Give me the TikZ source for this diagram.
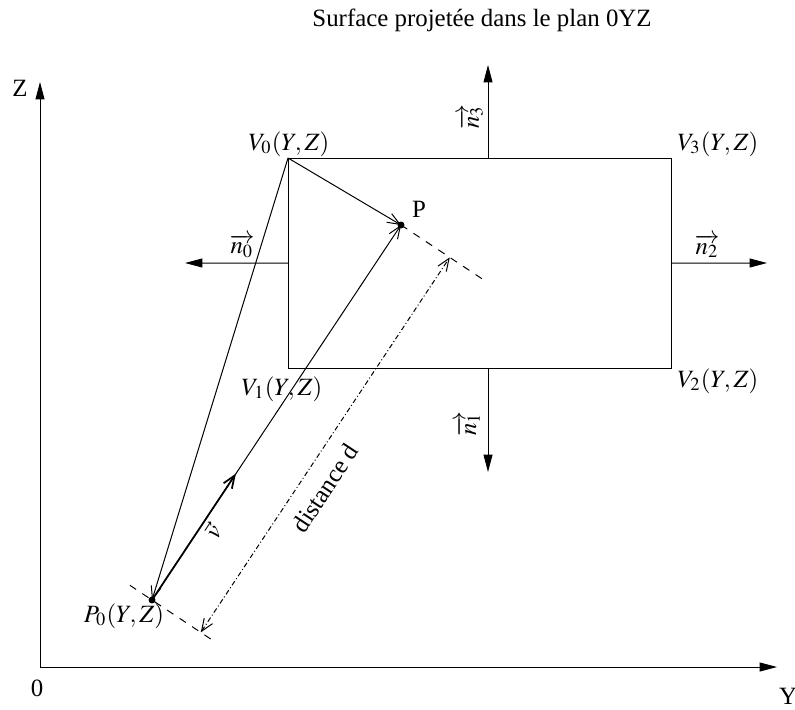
\documentclass[tikz,border=0pt]{standalone}
\usepackage{amsmath}
\usepackage{mathptmx}
\usepackage[no-math]{fontspec}
\setmainfont{Liberation Serif}
\usetikzlibrary{arrows.meta,calc}

\tikzset{
  axis/.style={-{Triangle[length=7pt,width=3.6pt]}},
  normale/.style={-{Triangle[length=7pt,width=3.6pt]}},
  vect/.style={-{Straight Barb[length=5pt,width=4pt]}},
  cote/.style={{Straight Barb[length=5pt,width=4pt]}-{Straight Barb[length=5pt,width=4pt]},
    dash pattern=on 2pt off 1pt on 0.4pt off 1pt},
  perp/.style={dashed},
}

\begin{document}
\begin{tikzpicture}[x=0.7065cm, y=0.7065cm, line width=0.4pt]
        \useasboundingbox (-0.8,-0.84) rectangle (15.1,13.34);

        % we draw axes
        \coordinate (O) at (0,0);
        \coordinate (Yb) at (14.74,0);
        \coordinate (Zb) at (0,11.7);
        \draw[axis] (O) -- (Yb);
        \draw[axis] (O) -- (Zb);
        \node (lO) at (-0.06,-0.42) {0};
        \node (lY) at (14.96,-0.58) {Y};
        \node (lZ) at (-0.4,11.58) {Z};
        \node (titre) at (8.84,12.94) {Surface projetée dans le plan 0YZ};

        % we draw the projected surface
        \coordinate (V0) at (4.96,10.18);
        \coordinate (V1) at (4.96,5.98);
        \coordinate (V2) at (12.62,5.98);
        \coordinate (V3) at (12.62,10.18);
        \draw (V0) -- (V1) -- (V2) -- (V3) -- cycle;
        \node (lV0) at (4.98,10.46) {$V_0(Y,Z)$};
        \node (lV1) at (4.84,5.56) {$V_1(Y,Z)$};
        \node (lV2) at (13.56,5.72) {$V_2(Y,Z)$};
        \node (lV3) at (13.56,10.46) {$V_3(Y,Z)$};

        % we add the normals
        \coordinate (n0a) at ($(V0)!0.5!(V1)$);
        \coordinate (n1a) at (8.96,5.98);
        \coordinate (n2a) at ($(V3)!0.5!(V2)$);
        \coordinate (n3a) at (8.96,10.18);
        \coordinate (n0b) at (2.9,8.08);
        \coordinate (n1b) at (8.96,3.9);
        \coordinate (n2b) at (14.54,8.08);
        \coordinate (n3b) at (8.96,12.04);
        \draw[normale] (n0a) -- (n0b);
        \draw[normale] (n1a) -- (n1b);
        \draw[normale] (n2a) -- (n2b);
        \draw[normale] (n3a) -- (n3b);
        \node (ln0) at (4.04,8.42) {$\overrightarrow{n_0}$};
        \node[rotate=90] (ln1) at (8.56,4.86) {$\overrightarrow{n_1}$};
        \node (ln2) at (13.34,8.42) {$\overrightarrow{n_2}$};
        \node[rotate=90] (ln3) at (8.62,11.0) {$\overrightarrow{n_3}$};

        % we draw the points and vectors
        \coordinate (P) at (7.22,8.84);
        \coordinate (P0) at (2.24,1.34);
        \coordinate (vb) at ($(P0)!0.337!(P)$);
        \draw[vect] (V0) -- (P);
        \draw[vect] (V0) -- (P0);
        \draw[vect] (P0) -- (P);
        \draw[vect, line width=0.7pt] (P0) -- (vb)
            node[pos=0.6, sloped, below, inner sep=1pt] {$\vec{v}$};
        \fill (P) circle (1.4pt);
        \fill (P0) circle (1.4pt);
        \node (lP) at (7.58,9.16) {P};
        \node (lP0) at (1.68,1.02) {$P_0(Y,Z)$};

        % we add the distance
        \coordinate (q1) at ($(P0)!0.059!90:(P)$);
        \coordinate (q2) at ($(P0)!0.16!-90:(P)$);
        \coordinate (q3) at ($(P)!0.229!90:(P0)$);
        \coordinate (dA) at ($(P0)!0.13!-90:(P)$);
        \coordinate (dB) at ($(P)!0.13!90:(P0)$);
        \draw[perp] (q1) -- (q2);
        \draw[perp] (P) -- (q3);
        \draw[cote] (dA) -- (dB) node[pos=0.42, sloped, below=2.4pt] {distance d};
\end{tikzpicture}
\end{document}
